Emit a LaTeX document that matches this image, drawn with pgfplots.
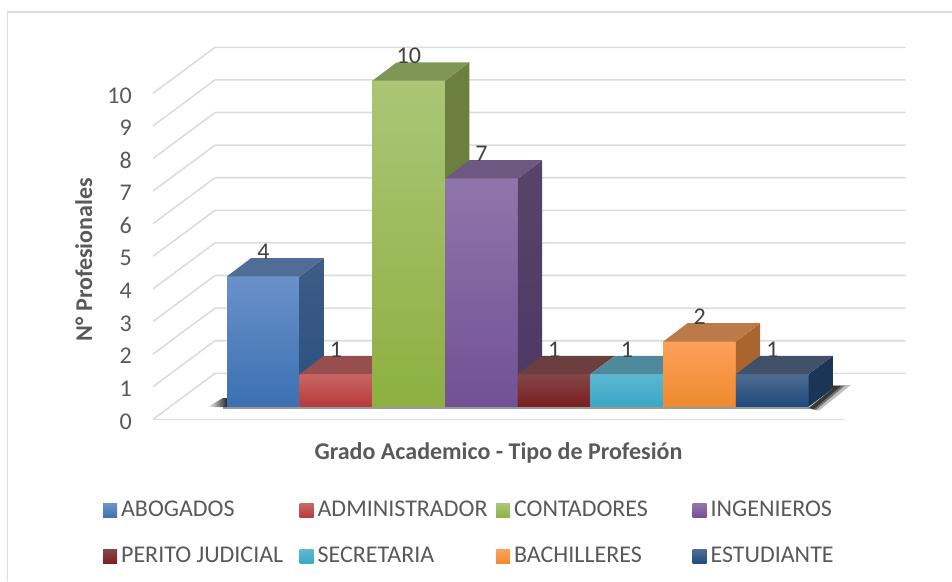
\documentclass[border=0pt]{standalone}
\usepackage{pgfplots}
\pgfplotsset{compat=1.18}
\usepackage{fontspec}
\setmainfont{Carlito}
\definecolor{gridc}{HTML}{DCDCDC}
\definecolor{txt}{HTML}{595959}
\definecolor{lab}{HTML}{404040}
\pgfplotsset{
  face/.style={draw=none,forget plot},
  gl/.style={draw=gridc,line width=1.6pt,mark=none,forget plot},
  legimg/.style={legend image code/.code={\path[##1] (0pt,-7pt) rectangle (14pt,7pt);}},
}
\newcommand{\lab}[1]{\makebox[177.5pt][l]{\hspace{4pt}#1}}
\begin{document}
\begin{tikzpicture}
\useasboundingbox (0,0) rectangle (952pt,581pt);
\draw[gridc,line width=1.6pt] (7.6pt,0pt) -- (7.6pt,569.2pt) -- (952pt,569.2pt);
% frame: walls, floor, value axis, axis titles
\begin{axis}[
  at={(153pt,161.7pt)},anchor=south west,
  scale only axis,width=691pt,height=326pt,
  xmin=0,xmax=691,ymin=0,ymax=10,clip=false,
  axis line style={draw=none},tick style={draw=none},
  xtick=\empty,ytick={0,1,2,3,4,5,6,7,8,9,10},ytick pos=left,
  major tick length=0pt,
  /pgf/number format/assume math mode=true,
  yticklabel style={font=\fontsize{24}{24}\selectfont,text=txt,inner sep=0pt,anchor=east,xshift=-21pt,yshift=-2pt},
  xlabel={Grado Academico - Tipo de Profesión},
  ylabel={N° Profesionales},
  every axis x label/.style={at={(rel axis cs:0.5,-0.102)},anchor=center,font=\fontsize{24}{24}\selectfont\bfseries,text=txt},
  every axis y label/.style={at={(rel axis cs:-0.1,0.49)},anchor=center,rotate=90,font=\fontsize{24}{24}\selectfont\bfseries,text=txt},
]
\addplot[gl] coordinates {(0,0)(62,1.41)(752.7,1.41)};
\addplot[gl] coordinates {(0,0)(691,0)};
\addplot[gl] coordinates {(0,1)(62,2.41)(752.7,2.41)};
\addplot[gl] coordinates {(0,2)(62,3.41)(752.7,3.41)};
\addplot[gl] coordinates {(0,3)(62,4.41)(752.7,4.41)};
\addplot[gl] coordinates {(0,4)(62,5.41)(752.7,5.41)};
\addplot[gl] coordinates {(0,5)(62,6.41)(752.7,6.41)};
\addplot[gl] coordinates {(0,6)(62,7.41)(752.7,7.41)};
\addplot[gl] coordinates {(0,7)(62,8.41)(752.7,8.41)};
\addplot[gl] coordinates {(0,8)(62,9.41)(752.7,9.41)};
\addplot[gl] coordinates {(0,9)(62,10.41)(752.7,10.41)};
\addplot[gl] coordinates {(0,10)(62,11.41)(752.7,11.41)};
\end{axis}
% bars
\begin{axis}[
  at={(227pt,174.3pt)},anchor=south west,
  scale only axis,width=581.7pt,height=326pt,
  xmin=0,xmax=8,ymin=0,ymax=10,clip=false,hide axis,
  legimg,
  /pgf/number format/assume math mode=true,
  legend columns=4,
  legend cell align=left,
  legend style={at={(-0.213,-0.2875)},anchor=north west,draw=none,fill=none,
    font=\fontsize{24}{24}\selectfont,text=txt,inner sep=0pt,outer sep=0pt,
    nodes={inner sep=0pt,text height=16pt,text depth=5pt},
    /tikz/every even column/.append style={column sep=5pt},
    /tikz/row sep=25pt},
]
% shadows
\addplot[face,left color=white,middle color=black!65,right color=black!85] coordinates {(-.27,-.01)(-.06,.26)(0,.26)(0,-.01)} -- cycle;
\addplot[face,fill=black,opacity=.4] coordinates {(-.05,0)(8,0)(8,-.08)(-.05,-.08)} -- cycle;
\addplot[face,fill=black,opacity=.25] coordinates {(8,-.06)(8.333,.561)(8.333,.665)(8.58,.665)(8.14,-.12)} -- cycle;
\addplot[face,fill=black,opacity=.4] coordinates {(8,-.05)(8.333,.561)(8.333,.65)(8.5,.65)(8.1,-.1)} -- cycle;
\addplot[face,fill=black,opacity=.5] coordinates {(8,-.03)(8.333,.561)(8.333,.63)(8.44,.63)(8.07,-.08)} -- cycle;
% ABOGADOS
\addplot[draw=none,top color={rgb,255:red,107;green,145;blue,201},bottom color={rgb,255:red,58;green,112;blue,179}] coordinates {(0,0)(1,0)(1,4)(0,4)} -- cycle;
\addlegendentry{\lab{ABOGADOS}}
\addplot[face,top color={rgb,255:red,62;green,92;blue,133},bottom color={rgb,255:red,42;green,80;blue,128}] coordinates {(1,0)(1.333,.561)(1.333,4.561)(1,4)} -- cycle;
\addplot[face,fill={rgb,255:red,79;green,109;blue,150}] coordinates {(0,4)(1,4)(1.333,4.561)(.333,4.561)} -- cycle;
% ADMINISTRADOR
\addplot[draw=none,top color={rgb,255:red,201;green,101;blue,101},bottom color={rgb,255:red,184;green,58;blue,58}] coordinates {(1,0)(2,0)(2,1)(1,1)} -- cycle;
\addlegendentry{\lab{ADMINISTRADOR}}
\addplot[face,fill={rgb,255:red,150;green,78;blue,78}] coordinates {(1,1)(2,1)(2.333,1.561)(1.333,1.561)} -- cycle;
% CONTADORES
\addplot[draw=none,top color={rgb,255:red,170;green,198;blue,118},bottom color={rgb,255:red,141;green,176;blue,64}] coordinates {(2,0)(3,0)(3,10)(2,10)} -- cycle;
\addlegendentry{\lab{CONTADORES}}
\addplot[face,fill={rgb,255:red,107;green,128;blue,63}] coordinates {(3,0)(3.333,.561)(3.333,10.561)(3,10)} -- cycle;
\addplot[face,fill={rgb,255:red,127;green,151;blue,86}] coordinates {(2,10)(3,10)(3.333,10.561)(2.333,10.561)} -- cycle;
% INGENIEROS
\addplot[draw=none,top color={rgb,255:red,144;green,117;blue,170},bottom color={rgb,255:red,114;green,80;blue,149}] coordinates {(3,0)(4,0)(4,7)(3,7)} -- cycle;
\addlegendentry{\lab{INGENIEROS}}
\addplot[face,top color={rgb,255:red,88;green,68;blue,104},bottom color={rgb,255:red,79;green,54;blue,101}] coordinates {(4,0)(4.333,.561)(4.333,7.561)(4,7)} -- cycle;
\addplot[face,fill={rgb,255:red,108;green,88;blue,128}] coordinates {(3,7)(4,7)(4.333,7.561)(3.333,7.561)} -- cycle;
% PERITO JUDICIAL
\addplot[draw=none,top color={rgb,255:red,130;green,71;blue,71},bottom color={rgb,255:red,122;green,30;blue,30}] coordinates {(4,0)(5,0)(5,1)(4,1)} -- cycle;
\addlegendentry{\lab{PERITO JUDICIAL}}
\addplot[face,fill={rgb,255:red,107;green,63;blue,63}] coordinates {(4,1)(5,1)(5.333,1.561)(4.333,1.561)} -- cycle;
% SECRETARIA
\addplot[draw=none,top color={rgb,255:red,93;green,184;blue,208},bottom color={rgb,255:red,55;green,167;blue,200}] coordinates {(5,0)(6,0)(6,1)(5,1)} -- cycle;
\addlegendentry{\lab{SECRETARIA}}
\addplot[face,fill={rgb,255:red,79;green,138;blue,156}] coordinates {(5,1)(6,1)(6.333,1.561)(5.333,1.561)} -- cycle;
% BACHILLERES
\addplot[draw=none,top color={rgb,255:red,255;green,160;blue,90},bottom color={rgb,255:red,238;green,138;blue,45}] coordinates {(6,0)(7,0)(7,2)(6,2)} -- cycle;
\addlegendentry{\lab{BACHILLERES}}
\addplot[face,fill={rgb,255:red,168;green,101;blue,47}] coordinates {(7,0)(7.333,.561)(7.333,2.561)(7,2)} -- cycle;
\addplot[face,fill={rgb,255:red,188;green,122;blue,72}] coordinates {(6,2)(7,2)(7.333,2.561)(6.333,2.561)} -- cycle;
% ESTUDIANTE
\addplot[draw=none,top color={rgb,255:red,79;green,108;blue,144},bottom color={rgb,255:red,31;green,74;blue,125}] coordinates {(7,0)(8,0)(8,1)(7,1)} -- cycle;
\addlegendentry{\lab{ESTUDIANTE}}
\addplot[face,fill={rgb,255:red,27;green,53;blue,86}] coordinates {(8,0)(8.333,.561)(8.333,1.561)(8,1)} -- cycle;
\addplot[face,fill={rgb,255:red,63;green,80;blue,104}] coordinates {(7,1)(8,1)(8.333,1.561)(7.333,1.561)} -- cycle;
% data labels
\addplot[draw=none,forget plot,point meta=y,nodes near coords,
  every node near coord/.append style={anchor=center,yshift=24.7pt,inner sep=0pt,text=lab,font=\fontsize{24}{24}\selectfont}]
  coordinates {(0.5,4)(1.5,1)(2.5,10)(3.5,7)(4.5,1)(5.5,1)(6.5,2)(7.5,1)};
\end{axis}
\end{tikzpicture}
\end{document}
